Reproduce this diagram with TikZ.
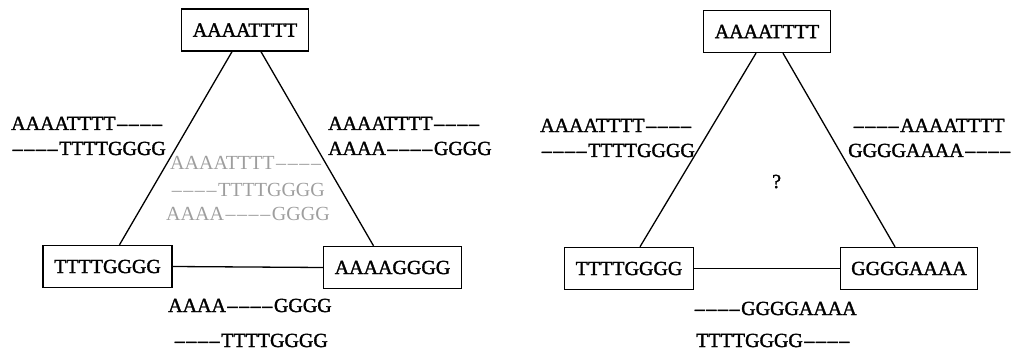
\documentclass[tikz,border=0pt]{standalone}
\usepackage{fontspec}
\setmainfont{Liberation Serif}
\newfontfamily\heavy{Liberation Serif}[FakeBold=1.6]
\newcommand\qd{\makebox[2.4em]{\textendash\hfil\textendash\hfil\textendash\hfil\textendash}}
\begin{document}
\begin{tikzpicture}[x=1pt,y=-1pt,
  seq/.style={draw,line width=1.4pt,font=\heavy\fontsize{20}{23}\selectfont,inner xsep=11pt,minimum height=42pt},
  lbl/.style={anchor=base west,inner sep=0pt,font=\heavy\fontsize{20}{23}\selectfont},
  ghost/.style={anchor=base west,inner sep=0pt,font=\fontsize{20}{23}\selectfont,text=black!38},
  edge/.style={line width=1.3pt}]
\useasboundingbox (0,0) rectangle (1012,350);
% first triangle
\node[seq] (t1) at (245,30) {AAAATTTT};
\node[seq] (l1) at (107.5,266.5) {TTTTGGGG};
\node[seq] (r1) at (392.5,267.5) {AAAAGGGG};
\draw[edge] ([xshift=-13pt]t1.south) -- ([xshift=12pt]l1.north);
\draw[edge] ([xshift=16pt]t1.south) -- ([xshift=-19pt]r1.north);
\draw[edge] (l1.east) -- (r1.west);
\node[lbl] (a1) at (11,130) {AAAATTTT\qd};
\node[lbl] (a2) at (11,155) {\qd TTTTGGGG};
\node[lbl] (b1) at (328,130) {AAAATTTT\qd};
\node[lbl] (b2) at (328,155) {AAAA\qd GGGG};
\node[ghost] (g1) at (170,170) {AAAATTTT\qd};
\node[ghost] (g2) at (170,196) {\qd TTTTGGGG};
\node[ghost] (g3) at (166,220) {AAAA\qd GGGG};
\node[lbl] (c1) at (168,312) {AAAA\qd GGGG};
\node[lbl] (c2) at (173,347) {\qd TTTTGGGG};
% second triangle
\node[seq] (t2) at (767,31.5) {AAAATTTT};
\node[seq] (l2) at (629,268.5) {TTTTGGGG};
\node[seq] (r2) at (909,268.5) {GGGGAAAA};
\draw[edge] ([xshift=-11pt]t2.south) -- ([xshift=11pt]l2.north);
\draw[edge] ([xshift=16pt]t2.south) -- ([xshift=-14pt]r2.north);
\draw[edge] (l2.east) -- (r2.west);
\node[lbl] (d1) at (540,132) {AAAATTTT\qd};
\node[lbl] (d2) at (540,157) {\qd TTTTGGGG};
\node[lbl] (e1) at (852,132) {\qd AAAATTTT};
\node[lbl] (e2) at (848,157) {GGGGAAAA\qd};
\node[lbl] (q) at (772,188) {?};
\node[lbl] (f1) at (693,315) {\qd GGGGAAAA};
\node[lbl] (f2) at (696,347) {TTTTGGGG\qd};
\end{tikzpicture}
\end{document}
